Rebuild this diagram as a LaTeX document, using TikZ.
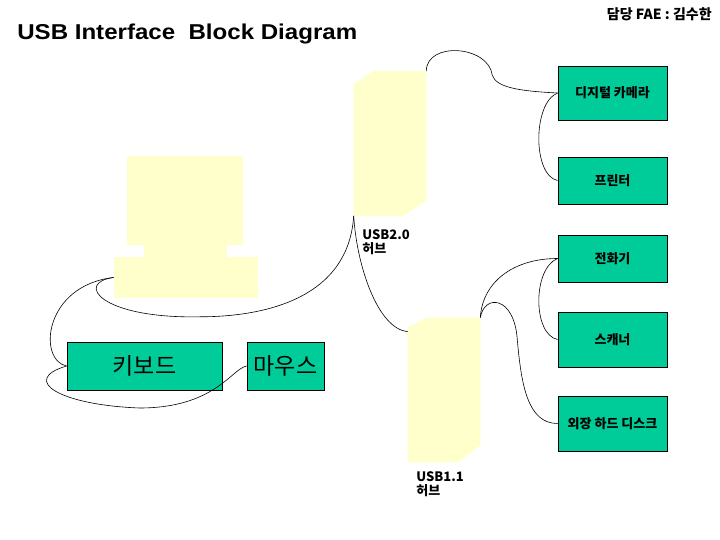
\documentclass[tikz,border=0pt]{standalone}
\usepackage{fontspec}
\setmainfont{Liberation Sans}
\newfontfamily\kr{Noto Sans CJK KR}
\definecolor{devgreen}{RGB}{0,204,153}
\definecolor{hubyellow}{RGB}{255,255,204}

\begin{document}
\begin{tikzpicture}[x=1pt,y=-1pt,line width=0.6pt,
      dev/.style={draw=black,line width=0.9pt,fill=devgreen,minimum width=109pt,
            inner sep=0pt,font=\kr\bfseries\fontsize{13}{15}\selectfont},
      bigdev/.style={draw=black,line width=0.9pt,fill=devgreen,minimum height=48pt,
            inner sep=0pt,font=\kr\fontsize{23}{26}\selectfont},
      hub/.style={minimum width=72pt,minimum height=144pt,inner sep=0pt},
      pcpart/.style={fill=hubyellow,inner sep=0pt},
      lbl/.style={anchor=north west,align=left,inner sep=0pt,
            font=\kr\bfseries\fontsize{13}{14}\selectfont}]
      \useasboundingbox (0,0) rectangle (720,540);

      \node[anchor=west,inner sep=0pt,xscale=1.12,font=\bfseries\fontsize{21.5}{24}\selectfont]
            (title) at (17,34) {USB Interface\ \ Block Diagram};
      \node[anchor=east,inner sep=0pt,font=\kr\bfseries\fontsize{14}{16}\selectfont]
            (fae) at (712,14) {담당 FAE : 김수한};

      \node[hub] (hubA) at (390,143.5) {};
      \node[hub] (hubB) at (444,390) {};
      \fill[hubyellow] ([yshift=-13pt]hubA.north west) -- ([xshift=19pt]hubA.north west)
            -- (hubA.north east) -- ([yshift=15pt]hubA.south east)
            -- ([xshift=-23pt]hubA.south east) -- (hubA.south west) -- cycle;
      \fill[hubyellow] ([yshift=-10pt]hubB.north west) -- ([xshift=19pt]hubB.north west)
            -- (hubB.north east) -- ([yshift=17pt]hubB.south east)
            -- ([xshift=-22pt]hubB.south east) -- (hubB.south west) -- cycle;
      \node[lbl] (hubAtxt) at (362,229) {USB2.0\\허브};
      \node[lbl] (hubBtxt) at (416,471) {USB1.1\\허브};

      \node[pcpart,minimum width=116pt,minimum height=89pt] (monitor) at (185,200.5) {};
      \node[pcpart,minimum width=83pt,minimum height=13pt] (neck) at (185.5,251) {};
      \node[pcpart,minimum width=144pt,minimum height=41pt] (pc) at (186,277.5) {};

      \node[dev,minimum height=54pt] (cam) at (612.5,93) {디지털 카메라};
      \node[dev,minimum height=47pt] (prn) at (612.5,180.5) {프린터};
      \node[dev,minimum height=47pt] (phone) at (612.5,258.5) {전화기};
      \node[dev,minimum height=55pt] (scan) at (612.5,339.5) {스캐너};
      \node[dev,minimum height=55pt] (hdd) at (612.5,423.5) {외장 하드 디스크};
      \node[bigdev,minimum width=155pt] (kbd) at (144.5,366) {키보드};
      \node[bigdev,minimum width=77pt] (mouse) at (285.5,366) {마우스};

      \draw (hubA.north east) .. controls +(0,-30) and +(-4,-30) .. ++(66,4)
            .. controls +(4,12) and +(-40,-2) .. (cam.west);
      \draw (cam.west) .. controls +(-25,10) and +(-25,-5) .. (prn.west);
      \draw (hubA.south west) .. controls +(-5,80) and +(70,0) .. ++(-154,101)
            .. controls +(-100,2) and +(-39,5) .. (pc.west);
      \draw (hubA.south west) .. controls +(3,50) and +(-30,-3)
            .. ([yshift=-14pt]hubB.north west);
      \draw (pc.west) .. controls +(-70,8) and +(-29,-6) .. (kbd.west);
      \draw (kbd.west) .. controls +(-47,14) and +(-80,-3) .. ++(73,42)
            .. controls +(75,0) and +(-15,3) .. (mouse.west);
      \draw (hubB.north east) .. controls +(2,-35) and +(-45,0) .. (phone.west);
      \draw (hubB.north east) .. controls +(4,-24) and +(-3,-44) .. ++(37,22)
            .. controls +(4,45) and +(-30,0) .. (hdd.west);
      \draw (phone.west) .. controls +(-25,10) and +(-25,-5) .. (scan.west);
\end{tikzpicture}
\end{document}
